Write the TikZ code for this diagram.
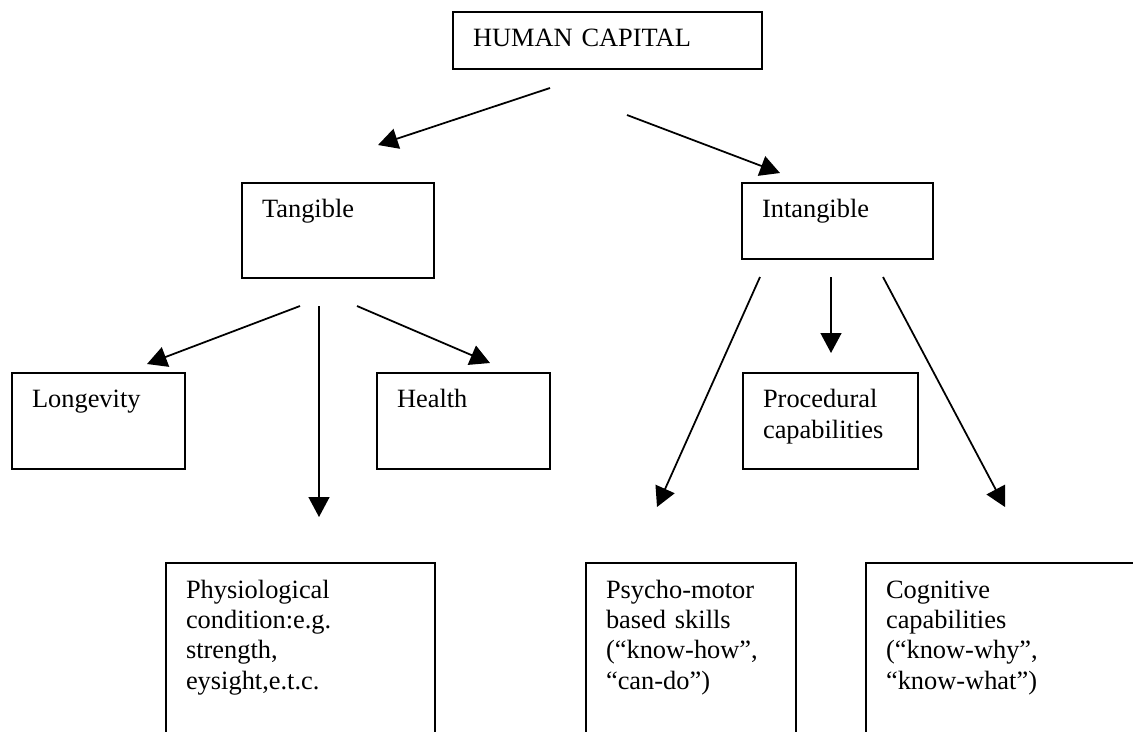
\documentclass[tikz,border=0pt]{standalone}
\usepackage{fontspec}
\setmainfont{Liberation Serif}
\usetikzlibrary{arrows.meta}

\tikzset{
  box/.style={draw, rectangle, anchor=north west, align=left, outer sep=0pt,
    inner xsep=9.1pt, inner ysep=0pt, text height=15.9pt,
    font=\fontsize{12}{13.8}\selectfont},
  link/.style={-{Triangle[length=9pt,width=9.4pt]}}
}

\begin{document}
\begin{tikzpicture}[x=0.4545pt, y=-0.4545pt, line width=0.8pt]
    \useasboundingbox (0,0) rectangle (1133,731);

    % Top box
    \node[box, text width=122.3pt, text depth=10pt] (capital) at (453,12) {HUMAN CAPITAL};

    % Second level
    \node[box, text width=69.1pt, text depth=27.3pt] (tangible) at (242,183) {Tangible};
    \node[box, text width=68.6pt, text depth=18.6pt] (intangible) at (742,183) {Intangible};

    % Third level
    \node[box, text width=60.4pt, text depth=27.7pt] (longevity) at (12,373) {Longevity};
    \node[box, text width=60.4pt, text depth=27.7pt] (health) at (377,373) {Health};
    \node[box, text width=61.3pt, text depth=27.7pt] (procedural) at (743,373) {Procedural\\capabilities};

    % Bottom level (cut at the lower edge)
    \node[box, text width=104.1pt, text depth=75pt] (physio) at (166,563)
        {Physiological\\condition:e.g.\\strength,\\eysight,e.t.c.};
    \node[box, text width=77.3pt, text depth=75pt] (psycho) at (586,563)
        {Psycho-motor\\based skills\\(“know-how”,\\“can-do”)};
    \node[box, text width=118.2pt, text depth=75pt] (cognitive) at (866,563)
        {Cognitive\\capabilities\\(“know-why”,\\“know-what”)};

    % Arrow ends
    \coordinate (capital-l) at (550,88);
    \coordinate (capital-r) at (627,115);
    \coordinate (tangible-in) at (378,145);
    \coordinate (intangible-in) at (780,173);
    \coordinate (tangible-l) at (300,306);
    \coordinate (tangible-m) at (319,306);
    \coordinate (tangible-r) at (357,306);
    \coordinate (longevity-in) at (147,364);
    \coordinate (physio-in) at (319,517);
    \coordinate (health-in) at (490,363);
    \coordinate (intangible-l) at (760,277);
    \coordinate (intangible-m) at (831,277);
    \coordinate (intangible-r) at (883,277);
    \coordinate (psycho-in) at (657,507);
    \coordinate (procedural-in) at (831,353);
    \coordinate (cognitive-in) at (1005,507);

    % Arrows
    \draw[link] (capital-l) -- (tangible-in);
    \draw[link] (capital-r) -- (intangible-in);
    \draw[link] (tangible-l) -- (longevity-in);
    \draw[link] (tangible-m) -- (physio-in);
    \draw[link] (tangible-r) -- (health-in);
    \draw[link] (intangible-l) -- (psycho-in);
    \draw[link] (intangible-m) -- (procedural-in);
    \draw[link] (intangible-r) -- (cognitive-in);

\end{tikzpicture}
\end{document}
